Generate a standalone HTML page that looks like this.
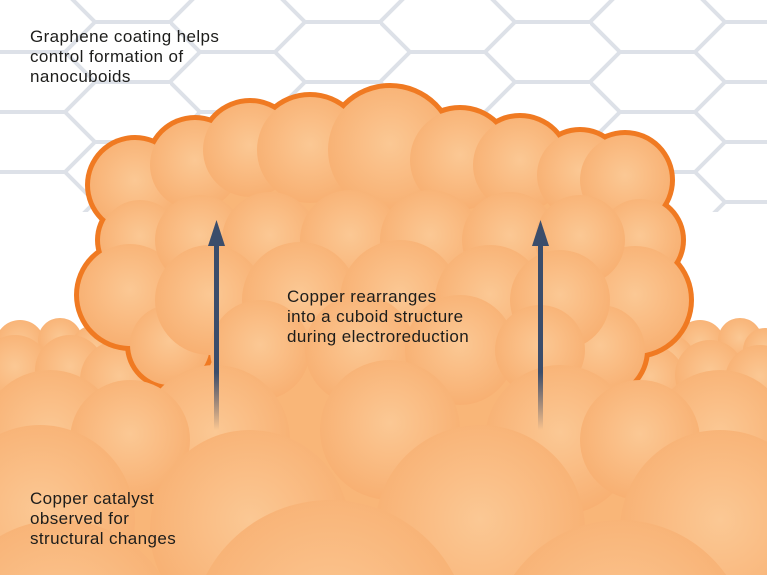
<!DOCTYPE html>
<html><head><meta charset="utf-8"><style>
html,body{margin:0;padding:0;background:#fff;overflow:hidden;width:767px;height:575px}
svg{display:block}
text{font-family:"Liberation Sans",sans-serif;font-size:17px;letter-spacing:0.4px;fill:#1d1d1b}
</style></head><body>
<svg width="767" height="575" viewBox="0 0 767 575" xmlns="http://www.w3.org/2000/svg">
<defs>
<radialGradient id="g" cx="50%" cy="45%" r="55%">
<stop offset="0" stop-color="#fbc894"/>
<stop offset="1" stop-color="#f8b072"/>
</radialGradient>
<pattern id="hex" width="210" height="60" patternUnits="userSpaceOnUse" x="-40" y="-8">
<path d="M0 30 L30 0 H105 L135 30 H210 M135 30 L105 60 H30 L0 30 M210 30 L240 0" fill="none" stroke="#dde1e8" stroke-width="4"/>
</pattern>
<linearGradient id="ar" x1="0" y1="0" x2="0" y2="1">
<stop offset="0.7" stop-color="#3b4d6b"/><stop offset="1" stop-color="#3b4d6b" stop-opacity="0"/>
</linearGradient>
</defs>
<rect width="767" height="575" fill="#fff"/>
<rect x="0" y="0" width="767" height="212" fill="url(#hex)"/>
<g fill="url(#g)">
<rect x="0" y="380" width="767" height="195" fill="#f9b678"/>
<rect x="60" y="340" width="640" height="60" fill="#f9b678"/>
<circle cx="20" cy="345" r="25"/><circle cx="60" cy="340" r="22"/><circle cx="95" cy="350" r="25"/>
<circle cx="700" cy="345" r="25"/><circle cx="740" cy="340" r="22"/><circle cx="765" cy="350" r="22"/>
<circle cx="670" cy="360" r="25"/>
<circle cx="15" cy="370" r="35"/><circle cx="70" cy="370" r="35"/><circle cx="120" cy="380" r="40"/>
<circle cx="650" cy="380" r="35"/><circle cx="710" cy="375" r="35"/><circle cx="760" cy="380" r="35"/>
</g>
<g fill="#f07a22">
<circle cx="135" cy="185" r="50"/><circle cx="195" cy="165" r="50"/><circle cx="250" cy="150" r="52"/>
<circle cx="310" cy="150" r="58"/><circle cx="390" cy="150" r="67"/><circle cx="460" cy="160" r="55"/>
<circle cx="520" cy="165" r="52"/><circle cx="580" cy="175" r="48"/><circle cx="625" cy="180" r="50"/>
<circle cx="140" cy="240" r="45"/><circle cx="640" cy="240" r="46"/>
<circle cx="130" cy="295" r="56"/><circle cx="635" cy="300" r="59"/>
<circle cx="170" cy="345" r="45"/><circle cx="600" cy="350" r="50"/>
</g>
<rect x="115" y="165" width="540" height="175" fill="#f9b678"/>
<g fill="url(#g)">
<circle cx="135" cy="185" r="45"/><circle cx="195" cy="165" r="45"/><circle cx="250" cy="150" r="47"/>
<circle cx="310" cy="150" r="53"/><circle cx="390" cy="150" r="62"/><circle cx="460" cy="160" r="50"/>
<circle cx="520" cy="165" r="47"/><circle cx="580" cy="175" r="43"/><circle cx="625" cy="180" r="45"/>
<circle cx="140" cy="240" r="40"/><circle cx="640" cy="240" r="41"/>
<circle cx="130" cy="295" r="51"/><circle cx="635" cy="300" r="54"/>
<circle cx="170" cy="345" r="40"/><circle cx="600" cy="350" r="45"/>
<circle cx="200" cy="240" r="45"/><circle cx="270" cy="240" r="48"/><circle cx="350" cy="240" r="50"/>
<circle cx="430" cy="240" r="50"/><circle cx="510" cy="240" r="48"/><circle cx="580" cy="240" r="45"/>
<circle cx="210" cy="300" r="55"/><circle cx="300" cy="300" r="58"/><circle cx="400" cy="300" r="60"/>
<circle cx="490" cy="300" r="55"/><circle cx="560" cy="300" r="50"/>
<circle cx="260" cy="350" r="50"/><circle cx="360" cy="350" r="55"/><circle cx="460" cy="350" r="55"/><circle cx="540" cy="350" r="45"/>
</g>
<g fill="url(#g)">
<circle cx="50" cy="440" r="70"/><circle cx="215" cy="440" r="75"/><circle cx="390" cy="430" r="70"/><circle cx="560" cy="440" r="75"/><circle cx="720" cy="440" r="70"/>
<circle cx="130" cy="440" r="60"/><circle cx="640" cy="440" r="60"/>
<circle cx="40" cy="520" r="95"/><circle cx="250" cy="530" r="100"/><circle cx="480" cy="530" r="105"/><circle cx="720" cy="530" r="100"/>
<circle cx="330" cy="640" r="140"/><circle cx="620" cy="650" r="130"/><circle cx="60" cy="640" r="120"/>
</g>
<rect x="214" y="238" width="5" height="192" fill="url(#ar)"/>
<polygon points="216.5,220 208,246 225,246" fill="#3b4d6b"/>
<rect x="538" y="238" width="5" height="192" fill="url(#ar)"/>
<polygon points="540.5,220 532,246 549,246" fill="#3b4d6b"/>
<text x="30" y="42">Graphene coating helps</text>
<text x="30" y="62">control formation of</text>
<text x="30" y="82">nanocuboids</text>
<text x="287" y="302">Copper rearranges</text>
<text x="287" y="322">into a cuboid structure</text>
<text x="287" y="342">during electroreduction</text>
<text x="30" y="504">Copper catalyst</text>
<text x="30" y="524">observed for</text>
<text x="30" y="544">structural changes</text>
</svg>
</body></html>
